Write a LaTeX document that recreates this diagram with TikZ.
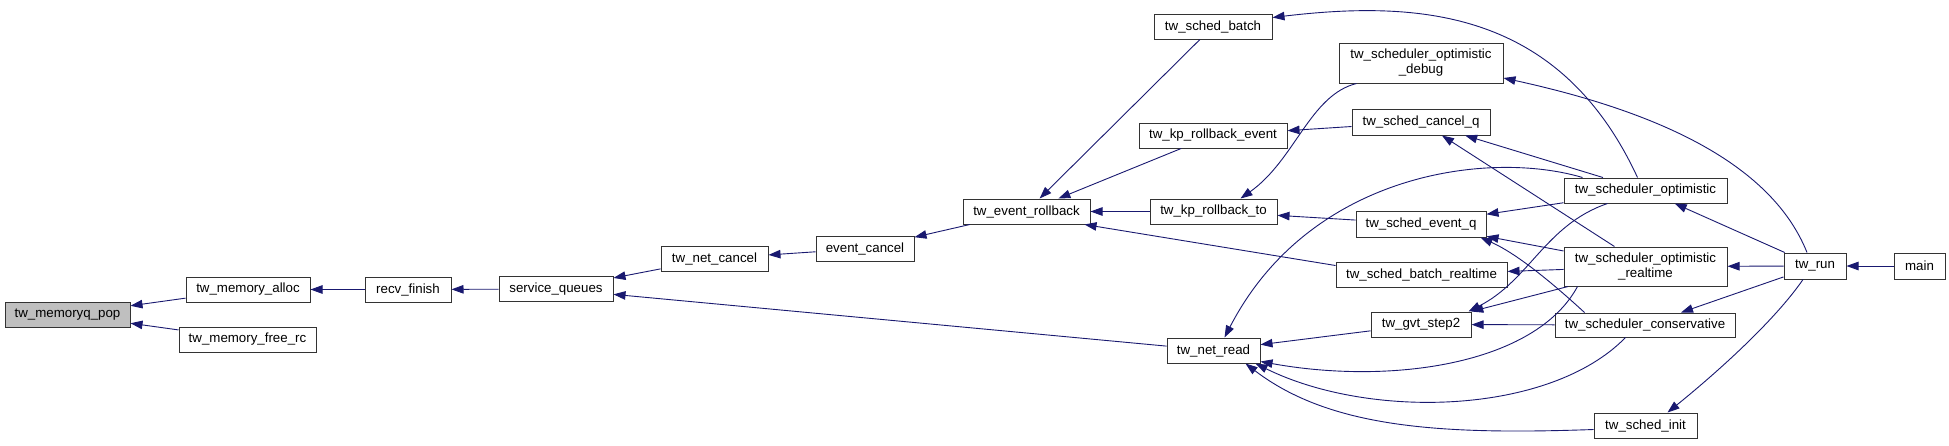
\documentclass[tikz,border=0pt]{standalone}
\usepackage{fontspec}
\setmainfont{Liberation Sans}
\usetikzlibrary{arrows.meta}
\definecolor{edgeblue}{RGB}{25,25,112}
\definecolor{rootgrey}{RGB}{191,191,191}

\begin{document}
\begin{tikzpicture}[x=1pt, y=-1pt,
  fn/.style={draw=black!80, line width=1pt, fill=white, minimum height=25pt,
    inner sep=2pt, align=center, font=\fontsize{13.3}{15}\selectfont},
  fnroot/.style={fn, fill=rootgrey},
  calls/.style={draw=edgeblue, line width=0.9pt,
    -{Triangle[length=12pt, width=8.5pt]}},
]
\path[fill=white, use as bounding box] (0,0) rectangle (1949,445);

% Left part: memory queue and its callers
\node[fnroot, minimum width=125pt] (pop) at (67.5,314.5) {tw\_memoryq\_pop};
\node[fn, minimum width=124pt] (alloc) at (248,289.5) {tw\_memory\_alloc};
\node[fn, minimum width=137pt] (freerc) at (247.5,339.5) {tw\_memory\_free\_rc};
\node[fn, minimum width=86pt] (recv) at (408,289.5) {recv\_finish};
\node[fn, minimum width=114pt] (servq) at (556,289) {service\_queues};
\node[fn, minimum width=107pt] (netcancel) at (714.5,258.5) {tw\_net\_cancel};
\node[fn, minimum width=98pt] (evcancel) at (865,248.5) {event\_cancel};
\node[fn, minimum width=127pt] (evrb) at (1026.5,211.5) {tw\_event\_rollback};

% Middle column
\node[fn, minimum width=118pt] (schedbatch) at (1213,26.5) {tw\_sched\_batch};
\node[fn, minimum width=148pt] (kprbevent) at (1213,135.5) {tw\_kp\_rollback\_event};
\node[fn, minimum width=127pt] (kprbto) at (1213.5,211.5) {tw\_kp\_rollback\_to};
\node[fn, minimum width=93pt] (netread) at (1213.5,350.5) {tw\_net\_read};

% Scheduler helpers
\node[fn, minimum width=164pt, minimum height=40pt] (optdebug) at (1421,63)
  {tw\_scheduler\_optimistic\\\_debug};
\node[fn, minimum width=138pt, minimum height=26pt] (cancelq) at (1421,122) {tw\_sched\_cancel\_q};
\node[fn, minimum width=130pt, minimum height=26pt] (eventq) at (1421,224) {tw\_sched\_event\_q};
\node[fn, minimum width=171pt] (batchrt) at (1421.5,274.5) {tw\_sched\_batch\_realtime};
\node[fn, minimum width=100pt] (gvt) at (1421,324.5) {tw\_gvt\_step2};

% Schedulers
\node[fn, minimum width=163pt] (opt) at (1645.5,190.5) {tw\_scheduler\_optimistic};
\node[fn, minimum width=163pt, minimum height=39pt] (optrt) at (1645.5,266.5)
  {tw\_scheduler\_optimistic\\\_realtime};
\node[fn, minimum width=180pt, minimum height=24pt] (cons) at (1645,325) {tw\_scheduler\_conservative};
\node[fn, minimum width=103pt] (schedinit) at (1645.5,425.5) {tw\_sched\_init};

% Entry points
\node[fn, minimum width=62pt, minimum height=26pt] (run) at (1815,266) {tw\_run};
\node[fn, minimum width=51pt, minimum height=26pt] (main) at (1919.5,266) {main};

% Calls
\draw[calls] (alloc) -- (pop);
\draw[calls] (freerc) -- (pop);
\draw[calls] (recv) -- (alloc);
\draw[calls] (servq) -- (recv);
\draw[calls] (netcancel) -- (servq);
\draw[calls] (netread) -- (servq);
\draw[calls] (evcancel) -- (netcancel);
\draw[calls] (evrb) -- (evcancel);
\draw[calls] (schedbatch) -- (evrb);
\draw[calls] (kprbevent) -- (evrb);
\draw[calls] (kprbto) -- (evrb);
\draw[calls] ([yshift=9pt]batchrt.west) -- ([xshift=-6pt]evrb.south east);
\draw[calls] ([xshift=-8pt]opt.north) .. controls (1560,10) and (1420,0)
  .. ([yshift=9pt]schedbatch.east);
\draw[calls] (cancelq) -- (kprbevent);
\draw[calls] ([xshift=18pt]optdebug.south west) .. controls (1310,95) and (1295,160)
  .. ([xshift=27pt]kprbto.north);
\draw[calls] (eventq) -- (kprbto);
\draw[calls] (opt) -- (cancelq);
\draw[calls] (optrt) -- (cancelq);
\draw[calls] (opt) -- (eventq);
\draw[calls] (optrt) -- (eventq);
\draw[calls] ([xshift=30pt]cons.north west) .. controls (1560,290) and (1520,255)
  .. ([xshift=-6pt]eventq.south east);
\draw[calls] (optrt) -- (batchrt);
\draw[calls] ([xshift=19pt]opt.north west) .. controls (1490,150) and (1310,172)
  .. ([xshift=11pt]netread.north);
\draw[calls] (gvt) -- (netread);
\draw[calls] ([xshift=14pt]optrt.south west) .. controls (1535,365) and (1390,385)
  .. ([yshift=2pt]netread.south east);
\draw[calls] ([xshift=71pt]cons.south west) .. controls (1550,415) and (1370,420)
  .. ([xshift=-5pt]netread.south east);
\draw[calls] ([yshift=-4pt]schedinit.west) .. controls (1440,435) and (1330,428)
  .. ([xshift=-15pt]netread.south east);
\draw[calls] ([xshift=44pt]opt.south west) .. controls (1545,225) and (1530,280)
  .. ([xshift=-3pt]gvt.north east);
\draw[calls] (optrt) -- (gvt);
\draw[calls] (cons) -- (gvt);
\draw[calls] ([xshift=-8pt]run.north) .. controls (1770,160) and (1650,110)
  .. ([yshift=-15pt]optdebug.east);
\draw[calls] (run) -- (opt);
\draw[calls] (run) -- (optrt);
\draw[calls] (run) -- (cons);
\draw[calls] ([xshift=-12pt]run.south) .. controls (1775,320) and (1720,370)
  .. ([xshift=22pt]schedinit.north);
\draw[calls] (main) -- (run);
\end{tikzpicture}
\end{document}
